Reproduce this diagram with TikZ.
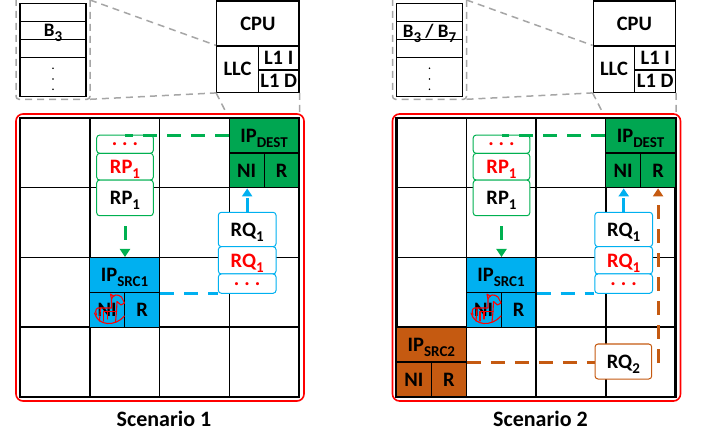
\documentclass[tikz,border=0pt]{standalone}
\usepackage{fontspec}
\setmainfont{Carlito}
\usetikzlibrary{arrows.meta}
\definecolor{destgreen}{RGB}{0,166,81}
\definecolor{pktgreen}{RGB}{0,176,80}
\definecolor{srcblue}{RGB}{0,176,240}
\definecolor{srcbrown}{RGB}{197,90,17}
\definecolor{zoomgray}{RGB}{166,166,166}
\newcommand{\lowtext}[1]{\raisebox{-5pt}{\fontsize{15}{15}\selectfont #1}}
\tikzset{
  lbl/.style={font=\bfseries\fontsize{20.5}{20.5}\selectfont, inner sep=0pt, text depth=0pt},
  block/.style={lbl, draw=black, line width=1.2pt},
  ip/.style={block, fill=#1, minimum width=69.75pt, minimum height=35pt},
  port/.style={block, fill=#1, minimum width=34.9pt, minimum height=34.75pt},
  pkt/.style={lbl, draw=#1, fill=white, line width=1pt, rounded corners=3pt, minimum width=56.6pt},
  flow/.style={draw=#1, line width=3pt, dash pattern=on 14pt off 10pt},
  flowtip/.style={flow=#1, -{Triangle[width=10pt,length=8pt]}},
  zoomline/.style={draw=zoomgray, line width=1.5pt, dash pattern=on 7pt off 5pt},
  horse/.style={draw=red, line width=1.1pt, line cap=round, line join=round},
}
\begin{document}
\begin{tikzpicture}[x=1pt,y=-1pt]
\useasboundingbox (0,0) rectangle (709,435);
\foreach \s/\n/\blk in {0/1/{B\lowtext{3}}, 376.5/2/{B\lowtext{3} / B\lowtext{7}}}{
\begin{scope}[xshift=\s pt]
% mesh
\foreach \i in {0,...,4}{
  \draw[line width=1.5pt] ({20+69.75*\i},118) -- ({20+69.75*\i},397);
  \draw[line width=1.5pt] (20,{118+69.75*\i}) -- (299,{118+69.75*\i});
}
\draw[line width=2.5pt] (20,118) rectangle (299,397);
% destination IP
\node[ip=destgreen] (dest\n) at (264.1,135.5) {IP\lowtext{DEST}};
\node[port=destgreen] (destni\n) at (246.7,170.4) {NI};
\node[port=destgreen] (destr\n) at (281.6,170.4) {R};
% source IP 1
\node[ip=srcblue] (src\n) at (124.6,275.1) {IP\lowtext{SRC1}};
\node[port=srcblue] (srcni\n) at (107.2,310) {NI};
\node[port=srcblue] (srcr\n) at (142.1,310) {R};
% trojan on the NI
\draw[horse] (94.5,313) .. controls (98,326) and (115,327) .. (124.5,316);
\draw[horse] (99.5,321) -- (100.5,308) -- (111.5,308) -- (111.5,299) .. controls (113,294) and (118,294) .. (121.5,297) -- (124.5,303) -- (121,305) -- (117,301.5) -- (116.5,311.5) -- (115.5,322);
\draw[horse] (103.5,321) -- (103.5,311.5) -- (116.5,311.5);
\draw[horse] (107.5,311.5) -- (107.5,319);
\draw[horse] (100.5,308) .. controls (96.5,307) and (94.5,310) .. (96.5,315);
\draw[horse] (111.5,299) -- (110.5,294) -- (114,296.5);
% response packets
\node[pkt=pktgreen, minimum height=18.3pt, text=red] (rpdots\n) at (125,144.2) {.\hspace{5pt}.\hspace{5pt}.};
\node[pkt=pktgreen, minimum height=26.7pt, text=red] (rpred\n) at (125,166.7) {RP\lowtext{1}};
\node[pkt=pktgreen, minimum height=35.7pt] (rpblk\n) at (125,197.9) {RP\lowtext{1}};
% request packets
\node[pkt=srcblue, minimum width=57.7pt, minimum height=34.4pt] (rqblk\n) at (247.2,229.5) {RQ\lowtext{1}};
\node[pkt=srcblue, minimum width=57.7pt, minimum height=27.3pt, text=red] (rqred\n) at (247.2,260.35) {RQ\lowtext{1}};
\node[pkt=srcblue, minimum width=57.7pt, minimum height=19.3pt, text=red] (rqdots\n) at (247.2,283.65) {.\hspace{5pt}.\hspace{5pt}.};
% flows
\draw[flow=pktgreen] (dest\n.west) -- (dest\n.west -| rpdots\n.north);
\draw[flowtip=pktgreen, shorten <=10pt] (rpblk\n.south) -- (rpblk\n.south |- src\n.north);
\draw[flowtip=srcblue] (rqblk\n.north) -- (rqblk\n.north |- destni\n.south);
\draw[flow=srcblue] (src\n.south east) -- (src\n.south east -| rqdots\n.west);
% chip outline
\draw[red, line width=1.6pt, rounded corners=7pt] (16,114) rectangle (304,401);
% memory blocks
\node[block, minimum width=66pt, minimum height=18.4pt] (mema\n) at (53,12.5) {};
\node[block, minimum width=66pt, minimum height=17.6pt, font=\bfseries\fontsize{19}{19}\selectfont] (memb\n) at (53,30.5) {\blk};
\node[block, minimum width=66pt, minimum height=18pt] (memc\n) at (53,48.3) {};
\node[block, minimum width=66pt, minimum height=39.4pt] (memd\n) at (53,77) {};
\fill (53,68.3) circle (0.9pt) (53,79) circle (0.9pt) (53,89.3) circle (0.9pt);
\draw[zoomline, rounded corners=3pt] (16,-4) rectangle (90,99.3);
\coordinate (memtop\n) at (90,0);
\coordinate (membot\n) at (90,99.3);
% cpu
\node[block, font=\bfseries\fontsize{20.5}{20.5}\selectfont, minimum width=82.3pt, minimum height=45pt] (cpu\n) at (257.85,23.5) {CPU};
\node[block, font=\bfseries\fontsize{20.5}{20.5}\selectfont, minimum width=41.6pt, minimum height=46.3pt] (llc\n) at (237.5,69.15) {LLC};
\node[block, font=\bfseries\fontsize{20.5}{20.5}\selectfont, minimum width=40.7pt, minimum height=24pt] (lonei\n) at (278.65,58) {L1 I};
\node[block, font=\bfseries\fontsize{20.5}{20.5}\selectfont, minimum width=40.7pt, minimum height=22.3pt] (loned\n) at (278.65,81.15) {L1 D};
% zoom lines
\draw[zoomline] (memtop\n) -- (llc\n.north west);
\draw[zoomline] (membot\n) -- (llc\n.south west);
\draw[zoomline, shorten >=5pt] (llc\n.south west) -- (dest\n.north west);
\draw[zoomline, shorten >=4pt] (loned\n.south east) -- (dest\n.north east);
% caption
\node[lbl, font=\bfseries\fontsize{22}{22}\selectfont] (title\n) at (164,419) {Scenario \n};
\end{scope}
}
% second source in scenario 2
\begin{scope}[xshift=376.5pt]
\node[ip=srcbrown, minimum height=34.5pt] (srcb) at (54.9,344.5) {IP\lowtext{SRC2}};
\node[port=srcbrown] (srcbni) at (37.4,379.4) {NI};
\node[port=srcbrown] (srcbr) at (72.3,379.4) {R};
\node[pkt=srcbrown, minimum width=56.7pt, minimum height=35pt] (rqtwo) at (246.85,361.5) {RQ\lowtext{2}};
\coordinate (turn) at (281.6,363);
\draw[flow=srcbrown] (srcb.south east) -- (srcb.south east -| rqtwo.west);
\draw[flowtip=srcbrown] (turn) -- (turn |- destr2.south);
\end{scope}
\end{tikzpicture}
\end{document}
